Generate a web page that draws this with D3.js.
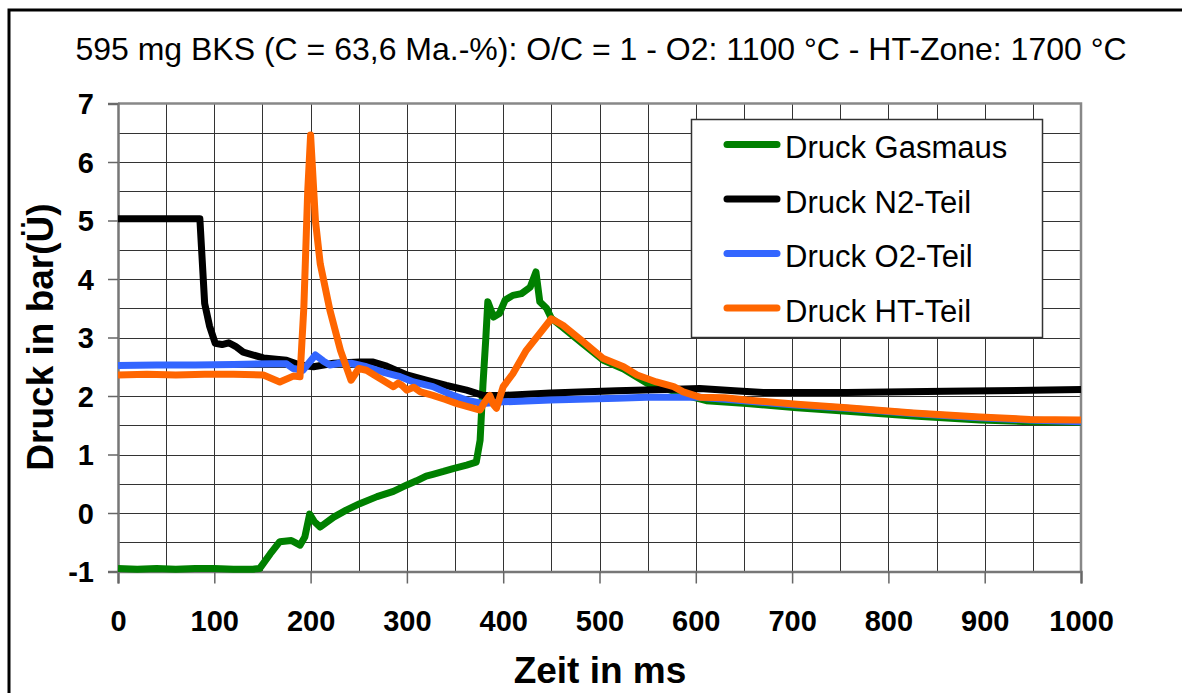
<!DOCTYPE html>
<html>
<head>
<meta charset="utf-8">
<script src="https://cdn.jsdelivr.net/npm/d3@7"></script>
<style>
  html, body { margin: 0; padding: 0; background: #fff; }
  svg { display: block; }
  text { font-family: "Liberation Sans", Arial, sans-serif; fill: #000; }
</style>
</head>
<body>
<svg id="chart" width="1182" height="693"></svg>
<script>
// Pressure traces (bar gauge) over time (ms)
const timeGasmaus = [0, 20, 40, 60, 80, 100, 120, 140, 147, 158, 168, 180, 189, 194, 199, 204, 210, 224, 237, 251, 269, 286, 300, 310, 320, 327, 338, 348, 362, 372, 376, 379, 382, 384, 390, 396, 402, 410, 419, 428, 434, 438, 445, 450, 462, 483, 504, 525, 549, 570, 590, 611, 653, 705, 757, 826, 895, 947, 1000];
const druckGasmaus = [-0.95, -0.96, -0.95, -0.96, -0.95, -0.95, -0.96, -0.96, -0.95, -0.70, -0.49, -0.47, -0.55, -0.41, -0.02, -0.15, -0.24, -0.07, 0.05, 0.16, 0.28, 0.37, 0.48, 0.55, 0.63, 0.66, 0.71, 0.76, 0.82, 0.87, 1.24, 2.2, 3.0, 3.61, 3.35, 3.41, 3.64, 3.72, 3.75, 3.86, 4.12, 3.61, 3.50, 3.33, 3.17, 2.89, 2.61, 2.46, 2.22, 2.12, 2.01, 1.92, 1.87, 1.80, 1.74, 1.66, 1.59, 1.56, 1.55];

const timeN2 = [0, 40, 85, 90, 95, 101, 108, 115, 122, 130, 151, 175, 189, 203, 224, 251, 265, 279, 300, 320, 341, 362, 379, 400, 449, 518, 587, 604, 640, 670, 757, 860, 1000];
const druckN2 = [5.03, 5.03, 5.03, 3.58, 3.2, 2.90, 2.88, 2.91, 2.85, 2.75, 2.65, 2.61, 2.53, 2.50, 2.56, 2.58, 2.58, 2.51, 2.36, 2.27, 2.18, 2.10, 2.01, 2.01, 2.05, 2.09, 2.12, 2.13, 2.09, 2.06, 2.06, 2.08, 2.11];

const timeO2 = [0, 40, 80, 120, 160, 175, 182, 192, 205, 213, 220, 230, 242, 258, 275, 293, 307, 327, 348, 362, 379, 400, 449, 518, 549, 604, 650, 700, 757, 826, 895, 947, 1000];
const druckO2 = [2.52, 2.53, 2.53, 2.54, 2.55, 2.55, 2.47, 2.44, 2.70, 2.60, 2.53, 2.56, 2.56, 2.50, 2.41, 2.33, 2.24, 2.16, 2.01, 1.93, 1.87, 1.90, 1.93, 1.96, 1.98, 1.98, 1.92, 1.85, 1.79, 1.70, 1.63, 1.59, 1.56];

const timeHT = [0, 30, 60, 90, 120, 151, 168, 182, 189, 193, 197, 200, 205, 210, 220, 231, 242, 250, 258, 266, 275, 286, 291, 295, 300, 307, 314, 327, 340, 352, 365, 376, 381, 386, 390, 393, 400, 410, 424, 438, 450, 462, 483, 504, 525, 539, 559, 577, 587, 604, 630, 653, 705, 757, 826, 895, 947, 1000];
const druckHT = [2.36, 2.37, 2.36, 2.37, 2.37, 2.36, 2.24, 2.34, 2.33, 3.52, 5.5, 6.46, 5.0, 4.26, 3.47, 2.78, 2.27, 2.47, 2.44, 2.36, 2.27, 2.16, 2.22, 2.18, 2.10, 2.15, 2.07, 2.01, 1.94, 1.87, 1.81, 1.76, 1.90, 2.01, 1.85, 1.79, 2.16, 2.38, 2.78, 3.07, 3.32, 3.21, 2.93, 2.64, 2.50, 2.36, 2.24, 2.16, 2.07, 1.98, 1.97, 1.93, 1.86, 1.80, 1.71, 1.64, 1.60, 1.59];

const seriesNames = ["Druck Gasmaus", "Druck N2-Teil", "Druck O2-Teil", "Druck HT-Teil"];
const seriesColors = ["#008000", "#000000", "#3366ff", "#ff6600"];

const xTicks = [0, 100, 200, 300, 400, 500, 600, 700, 800, 900, 1000];
const yTicks = [-1, 0, 1, 2, 3, 4, 5, 6, 7];

const titleText = "595 mg BKS (C = 63,6 Ma.-%): O/C = 1 - O2: 1100 °C - HT-Zone: 1700 °C";
const xTitle = "Zeit in ms";
const yTitle = "Druck in bar(Ü)";

const series = [
  { name: seriesNames[0], color: seriesColors[0], t: timeGasmaus, v: druckGasmaus },
  { name: seriesNames[1], color: seriesColors[1], t: timeN2, v: druckN2 },
  { name: seriesNames[2], color: seriesColors[2], t: timeO2, v: druckO2 },
  { name: seriesNames[3], color: seriesColors[3], t: timeHT, v: druckHT }
];

const svg = d3.select("#chart");
const plot = { left: 118, right: 1081, top: 103.5, bottom: 571.5 };

const x = d3.scaleLinear().domain([0, 1000]).range([plot.left, plot.right]);
const y = d3.scaleLinear().domain([-1, 7]).range([plot.bottom, plot.top]);

// outer frame
svg.append("rect").attr("x", 0).attr("y", 0).attr("width", 1182).attr("height", 693).attr("fill", "#fff");
svg.append("path")
  .attr("d", "M9,700 L9,10 L1190,10")
  .attr("fill", "none").attr("stroke", "#000").attr("stroke-width", 3);

// title
svg.append("text")
  .attr("x", 601).attr("y", 60)
  .attr("text-anchor", "middle")
  .attr("font-size", 32)
  .text(titleText);

// gridlines
const grid = svg.append("g").attr("stroke", "#333").attr("stroke-width", 1);
d3.range(50, 1000, 50).forEach(t => {
  grid.append("line")
    .attr("x1", Math.round(x(t)) + 0.5).attr("x2", Math.round(x(t)) + 0.5)
    .attr("y1", plot.top).attr("y2", plot.bottom);
});
d3.range(-0.5, 7, 0.5).forEach(v => {
  grid.append("line")
    .attr("x1", plot.left).attr("x2", plot.right)
    .attr("y1", Math.round(y(v)) + 0.5).attr("y2", Math.round(y(v)) + 0.5);
});

// plot border (top and right)
svg.append("path")
  .attr("d", `M${plot.left},${plot.top} L${plot.right},${plot.top} L${plot.right},${plot.bottom}`)
  .attr("fill", "none").attr("stroke", "#888").attr("stroke-width", 2.5);

// axes
const xAxis = d3.axisBottom(x).tickValues(xTicks).tickSize(12).tickPadding(27).tickFormat(d => String(d));
const yAxis = d3.axisLeft(y).tickValues(yTicks).tickSize(10).tickPadding(14).tickFormat(d => String(d));

const gx = svg.append("g").attr("transform", `translate(0,${plot.bottom})`).call(xAxis);
const gy = svg.append("g").attr("transform", `translate(${plot.left},0)`).call(yAxis);

[gx, gy].forEach(g => {
  g.select(".domain").attr("stroke", "#777").attr("stroke-width", 2.5);
  g.selectAll(".tick line").attr("stroke", "#666").attr("stroke-width", 1.5);
  g.selectAll(".tick text")
    .attr("font-family", "Liberation Sans, Arial, sans-serif")
    .attr("font-size", 29).attr("font-weight", "bold").attr("fill", "#000");
});
gy.selectAll(".tick text").attr("dy", "0.36em");
gx.selectAll(".tick text").attr("dy", "0.72em");

// axis titles
svg.append("text")
  .attr("x", 600).attr("y", 683)
  .attr("text-anchor", "middle")
  .attr("font-size", 37).attr("font-weight", "bold")
  .text(xTitle);

svg.append("text")
  .attr("transform", "translate(53,337) rotate(-90)")
  .attr("text-anchor", "middle")
  .attr("font-size", 37).attr("font-weight", "bold")
  .text(yTitle);

// data lines
const line = d3.line().x(d => x(d[0])).y(d => y(d[1]));
const lines = svg.append("g").attr("fill", "none");
series.forEach(s => {
  const pts = s.t.map((t, i) => [t, s.v[i]]);
  lines.append("path")
    .datum(pts)
    .attr("d", line)
    .attr("stroke", s.color)
    .attr("stroke-width", 7)
    .attr("stroke-linejoin", "round");
});

// legend
const legend = svg.append("g");
legend.append("rect")
  .attr("x", 691.5).attr("y", 119.5).attr("width", 351).attr("height", 218)
  .attr("fill", "#fff").attr("stroke", "#333").attr("stroke-width", 1.5);
series.forEach((s, i) => {
  const ly = 144.5 + i * 54.5;
  legend.append("line")
    .attr("x1", 727).attr("x2", 777).attr("y1", ly).attr("y2", ly)
    .attr("stroke", s.color).attr("stroke-width", 7).attr("stroke-linecap", "round");
  legend.append("text")
    .attr("x", 785).attr("y", ly + 13.5)
    .attr("font-size", 31)
    .text(s.name);
});
</script>
</body>
</html>
